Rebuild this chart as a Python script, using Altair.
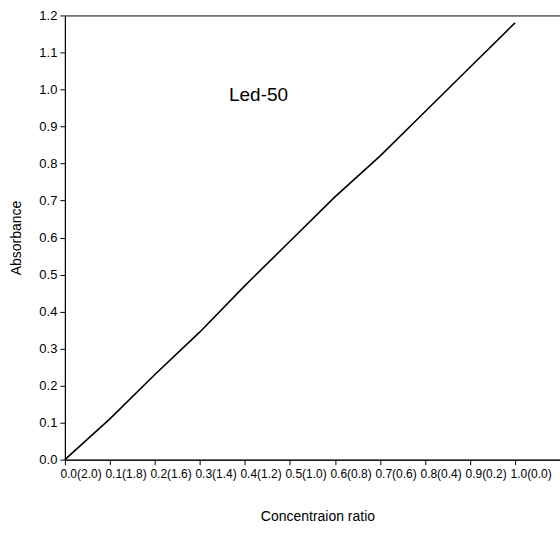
import altair as alt
import pandas as pd

ratio_labels = ["0.0(2.0)", "0.1(1.8)", "0.2(1.6)", "0.3(1.4)", "0.4(1.2)", "0.5(1.0)",
                "0.6(0.8)", "0.7(0.6)", "0.8(0.4)", "0.9(0.2)", "1.0(0.0)"]
positions = list(range(11))
absorbance = [0.0, 0.11, 0.23, 0.345, 0.47, 0.59, 0.71, 0.82, 0.94, 1.06, 1.18]
y_ticks = [0.0, 0.1, 0.2, 0.3, 0.4, 0.5, 0.6, 0.7, 0.8, 0.9, 1.0, 1.1, 1.2]

df = pd.DataFrame({"pos": positions, "label": ratio_labels, "abs": absorbance})

FONT = "Liberation Sans Narrow, Liberation Sans, Arial, sans-serif"
label_js = "[" + ",".join("'%s'" % s for s in ratio_labels) + "]"

x = alt.X("pos:Q",
          scale=alt.Scale(domain=[0, 11], nice=False, zero=False),
          axis=alt.Axis(values=positions, labelExpr=label_js + "[datum.value]",
                        title="Concentraion ratio", titleFont=FONT, titleFontSize=14,
                        titleFontWeight="normal", titleColor="black",
                        titleX=253, titleY=57, titleBaseline="middle",
                        labelFont=FONT, labelFontSize=12, labelColor="black",
                        labelAlign="left", labelOffset=-5, labelPadding=4,
                        labelOverlap=False, labelFlush=False, labelBound=False,
                        tickSize=5, tickColor="black", domainColor="black",
                        grid=False))
y = alt.Y("abs:Q",
          scale=alt.Scale(domain=[0, 1.2], nice=False),
          axis=alt.Axis(values=y_ticks, format=".1f",
                        title="Absorbance", titleFont=FONT, titleFontSize=14,
                        titleFontWeight="normal", titleColor="black",
                        titleX=-48, titleBaseline="middle",
                        labelFont=FONT, labelFontSize=13, labelColor="black",
                        labelPadding=3, tickSize=5, tickColor="black",
                        labelFlush=False, labelOverlap=False,
                        domainColor="black", grid=False))

line = alt.Chart(df).mark_line(color="black", strokeWidth=1.6).encode(x=x, y=y)

txt = alt.Chart(pd.DataFrame({"t": ["Led-50"]})).mark_text(
    font=FONT, fontSize=19, color="black", align="center", baseline="middle"
).encode(x=alt.value(194), y=alt.value(80), text="t:N")

chart = (line + txt).properties(
    width=496, height=445,
    background="white",
    autosize=alt.AutoSizeParams(type="none"),
    padding={"left": 65, "top": 15, "right": 0, "bottom": 75},
).configure_view(stroke="black", strokeWidth=1)

chart.save("out.html", embed_options={"renderer": "svg", "actions": False})
